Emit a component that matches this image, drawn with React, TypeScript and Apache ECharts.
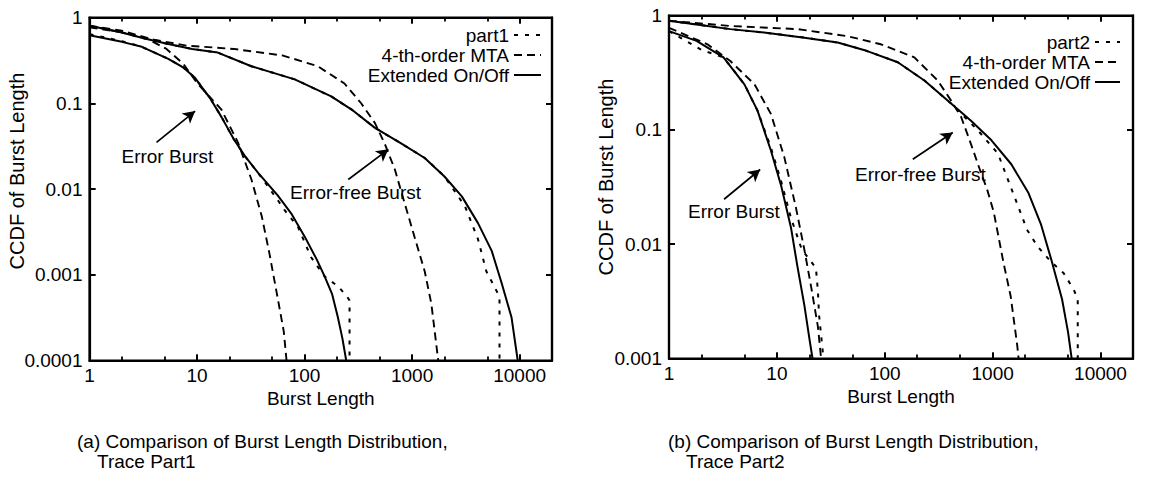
import React, { useEffect, useRef } from "react";
import * as echarts from "echarts";

// ---------- tick values / labels ----------
const xTickValues = [1, 10, 100, 1000, 10000];
const xTickLabels = ["1", "10", "100", "1000", "10000"];
const xMinorMarks = [2, 5, 20, 50, 200, 500, 2000, 5000];
const yTickValuesLeft = [0.0001, 0.001, 0.01, 0.1, 1];
const yTickLabelsLeft = ["0.0001", "0.001", "0.01", "0.1", "1"];
const yTickValuesRight = [0.001, 0.01, 0.1, 1];
const yTickLabelsRight = ["0.001", "0.01", "0.1", "1"];
const X_MIN = 1;
const X_MAX = 20000;

const legendLeft = ["part1", "4-th-order MTA", "Extended On/Off"];
const legendRight = ["part2", "4-th-order MTA", "Extended On/Off"];

// ---------- (a) Trace Part1 ----------
const aErrTrace = [[1, 0.64], [2, 0.53], [3, 0.46], [5.4, 0.33], [7.5, 0.26], [9.5, 0.2], [13.5, 0.11], [17, 0.068], [22, 0.038], [28, 0.024], [37, 0.0154], [56, 0.0075], [65, 0.0057], [87, 0.0036], [115, 0.0016], [154, 0.00095], [206, 0.00073], [250, 0.00055], [262, 0.0005], [262, 0.0001]];
const aErrMTA = [[1, 0.77], [2, 0.67], [3.4, 0.57], [5.2, 0.43], [7.5, 0.286], [9.9, 0.175], [13, 0.12], [16.8, 0.085], [24, 0.035], [32, 0.013], [40, 0.0048], [47, 0.0018], [56, 0.00055], [64, 0.00022], [68, 0.0001]];
const aErrExt = [[1, 0.62], [2, 0.52], [3, 0.46], [5.4, 0.33], [7.5, 0.26], [9.5, 0.2], [13.5, 0.11], [17, 0.068], [22, 0.038], [28, 0.024], [37, 0.0154], [56, 0.0085], [75, 0.0052], [100, 0.0028], [130, 0.0015], [154, 0.00095], [180, 0.0006], [204, 0.00032], [225, 0.00018], [244, 0.0001]];
const aFreeTrace = [[1, 0.8], [2, 0.67], [3.25, 0.57], [5.4, 0.49], [9, 0.43], [15.6, 0.39], [32, 0.27], [81, 0.19], [177, 0.12], [272, 0.085], [448, 0.052], [790, 0.034], [1310, 0.023], [2000, 0.014], [3100, 0.0063], [4100, 0.0026], [4900, 0.0011], [6300, 0.0006], [6500, 0.0005], [6500, 0.0001]];
const aFreeMTA = [[1, 0.8], [2, 0.7], [4, 0.55], [8, 0.47], [22, 0.43], [63, 0.36], [133, 0.27], [235, 0.17], [336, 0.1], [450, 0.059], [555, 0.034], [690, 0.017], [850, 0.0069], [1050, 0.0028], [1310, 0.0011], [1510, 0.00046], [1750, 0.0001]];
const aFreeExt = [[1, 0.8], [2, 0.67], [3.25, 0.57], [5.4, 0.49], [9, 0.43], [15.6, 0.39], [32, 0.27], [81, 0.19], [177, 0.12], [272, 0.085], [448, 0.052], [790, 0.034], [1310, 0.023], [2000, 0.014], [2900, 0.0082], [4100, 0.004], [5500, 0.0019], [6800, 0.0008], [8400, 0.00032], [9600, 0.0001]];

// ---------- (b) Trace Part2 ----------
const bErrTrace = [[1, 0.73], [2, 0.5], [3.2, 0.43], [5, 0.25], [6.6, 0.148], [8.8, 0.07], [11, 0.035], [13.5, 0.017], [17, 0.009], [23, 0.0062], [24, 0.0039], [24.6, 0.0024], [26.5, 0.0012], [27, 0.001]];
const bErrMTA = [[1, 0.78], [2.27, 0.56], [3.7, 0.4], [6.2, 0.25], [8.8, 0.138], [11.7, 0.058], [15, 0.021], [18, 0.0089], [21, 0.004], [24, 0.0019], [25.7, 0.001]];
const bErrExt = [[1, 0.73], [1.8, 0.6], [3.2, 0.43], [5, 0.25], [6.6, 0.148], [8.8, 0.066], [11, 0.032], [13.5, 0.014], [15.5, 0.0064], [18, 0.0029], [20, 0.0015], [21.4, 0.001]];
const bFreeTrace = [[1, 0.9], [1.8, 0.835], [3.7, 0.76], [7.6, 0.71], [18, 0.64], [36.6, 0.58], [64, 0.5], [132, 0.39], [233, 0.27], [412, 0.17], [730, 0.099], [1120, 0.062], [1570, 0.027], [1810, 0.019], [2080, 0.0134], [2600, 0.0096], [3430, 0.0071], [4540, 0.0056], [5650, 0.004], [6150, 0.0033], [6150, 0.001]];
const bFreeMTA = [[1, 0.9], [3.7, 0.81], [15.6, 0.76], [45, 0.66], [92, 0.56], [188, 0.43], [310, 0.27], [412, 0.18], [510, 0.13], [630, 0.075], [780, 0.042], [890, 0.03], [1025, 0.019], [1260, 0.0069], [1470, 0.0035], [1690, 0.0013], [1740, 0.001]];
const bFreeExt = [[1, 0.9], [1.8, 0.835], [3.7, 0.76], [7.6, 0.71], [18, 0.64], [36.6, 0.58], [64, 0.5], [132, 0.39], [233, 0.27], [412, 0.17], [630, 0.12], [975, 0.081], [1490, 0.05], [2150, 0.028], [2800, 0.015], [3500, 0.0073], [4400, 0.0033], [5000, 0.0017], [5400, 0.001]];

// ---------- annotations (data coordinates) ----------
const aNotes = [
  { text: "Error Burst", at: [5.3, 0.024], from: [4.2, 0.035], to: [9.6, 0.081] },
  { text: "Error-free Burst", at: [298, 0.0092], from: [255, 0.0129], to: [602, 0.029] },
];
const bNotes = [
  { text: "Error Burst", at: [4.0, 0.0193], from: [3.24, 0.0247], to: [7.0, 0.045] },
  { text: "Error-free Burst", at: [214, 0.041], from: [182, 0.0553], to: [427, 0.0947] },
];

const FONT = "'Liberation Sans', Arial, Helvetica, sans-serif";

// layout
const GRID_A = { left: 89.5, top: 17.5, width: 462.5, height: 343 };
const GRID_B = { left: 669, top: 15.5, width: 464, height: 343 };

const makeLabelFormatter = (values: number[], labels: string[]) => (v: number) => {
  const i = values.findIndex((t) => Math.abs(Math.log10(t) - Math.log10(v)) < 1e-6);
  return i >= 0 ? labels[i] : "";
};

// tick segments expressed in data space (tick length converted from pixels to log units)
const tickSegments = (yValues: number[], grid: { width: number; height: number }) => {
  const yMin = yValues[0];
  const yMax = yValues[yValues.length - 1];
  const pxPerDecX = grid.width / Math.log10(X_MAX / X_MIN);
  const pxPerDecY = grid.height / Math.log10(yMax / yMin);
  const fy = (px: number) => Math.pow(10, px / pxPerDecY);
  const fx = (px: number) => Math.pow(10, px / pxPerDecX);
  const nudge = 1.0005;
  const segs: any[] = [];
  const addX = (v: number, len: number) => {
    segs.push([{ coord: [v, yMin * nudge] }, { coord: [v, yMin * fy(len)] }]);
    segs.push([{ coord: [v, yMax / nudge] }, { coord: [v, yMax / fy(len)] }]);
  };
  xTickValues.forEach((v) => addX(v, 6));
  xMinorMarks.forEach((v) => addX(v, 4));
  yValues.forEach((v) => {
    segs.push([{ coord: [X_MIN * nudge, v] }, { coord: [X_MIN * fx(6), v] }]);
    segs.push([{ coord: [X_MAX / nudge, v] }, { coord: [X_MAX / fx(6), v] }]);
  });
  return segs;
};

export default function App() {
  const ref = useRef<HTMLDivElement>(null);

  useEffect(() => {
    document.body.style.margin = "0";
    document.body.style.overflow = "hidden";
    if (!ref.current) return;
    const chart = echarts.init(ref.current, undefined, { renderer: "svg" });

    const labelStyle = { color: "#000", fontSize: 19, fontFamily: FONT };
    const lineAxis = { show: true, lineStyle: { color: "#000", width: 2.2 } };
    const tickStyle = { show: true, inside: true, length: 6, lineStyle: { color: "#000", width: 1.8 } };

    const xAxisBase = (grid: number, pos: "bottom" | "top", showLabel: boolean, nameGap: number) => ({
      type: "log",
      gridIndex: grid,
      position: pos,
      min: X_MIN,
      max: X_MAX,
      logBase: 10,
      name: showLabel ? "Burst Length" : "",
      nameLocation: "middle",
      nameGap,
      nameTextStyle: { color: "#000", fontSize: 19, fontFamily: FONT },
      axisLine: lineAxis,
      axisTick: tickStyle,
      axisLabel: {
        show: showLabel,
        ...labelStyle,
        margin: 5,
        formatter: makeLabelFormatter(xTickValues, xTickLabels),
      },
      splitLine: { show: false },
    });

    const yAxisBase = (grid: number, pos: "left" | "right", showLabel: boolean, values: number[], labels: string[]) => ({
      type: "log",
      gridIndex: grid,
      position: pos,
      min: values[0],
      max: values[values.length - 1],
      logBase: 10,
      axisLine: lineAxis,
      axisTick: tickStyle,
      axisLabel: {
        show: showLabel,
        ...labelStyle,
        margin: 7,
        formatter: makeLabelFormatter(values, labels),
      },
      splitLine: { show: false },
    });

    const traceStyle = { color: "#000", width: 2, type: [4, 7] };
    const mtaStyle = { color: "#000", width: 1.9, type: [8, 5] };
    const extStyle = { color: "#000", width: 2, type: "solid" };

    const lineSeries = (name: string, data: number[][], style: any, xi: number, yi: number, z: number) => ({
      type: "line",
      name,
      data,
      xAxisIndex: xi,
      yAxisIndex: yi,
      showSymbol: false,
      symbol: "none",
      lineStyle: style,
      itemStyle: { color: "#000" },
      z,
      silent: true,
    });

    const arrowSeries = (notes: typeof aNotes, xi: number, yi: number) => ({
      type: "line",
      name: "notes",
      xAxisIndex: xi,
      yAxisIndex: yi,
      silent: true,
      symbol: "none",
      data: [],
      markLine: {
        silent: true,
        symbol: ["none", "arrow"],
        symbolSize: [10, 12],
        label: { show: false },
        lineStyle: { color: "#000", width: 1.7, type: "solid" },
        data: notes.map((n) => [{ coord: n.from }, { coord: n.to }]),
      },
      z: 10,
    });

    const tickSeries = (yValues: number[], grid: any, xi: number, yi: number) => ({
      type: "line",
      name: "ticks",
      xAxisIndex: xi,
      yAxisIndex: yi,
      silent: true,
      symbol: "none",
      data: [],
      markLine: {
        silent: true,
        symbol: ["none", "none"],
        label: { show: false },
        lineStyle: { color: "#000", width: 1.8, type: "solid" },
        data: tickSegments(yValues, grid),
      },
      z: 12,
    });

    const legendItem = (name: string, right: number, top: number, width: number) => ({
      data: [name],
      orient: "vertical",
      align: "right",
      right,
      top,
      padding: 0,
      itemWidth: width,
      itemHeight: 10,
      selectedMode: false,
      itemStyle: { opacity: 0, borderWidth: 0 },
      textStyle: { color: "#000", fontSize: 19, fontFamily: FONT, lineHeight: 20 },
    });

    const baseGraphic: any[] = [
      {
        type: "text", x: 17, y: 171, rotation: Math.PI / 2,
        style: { text: "CCDF of Burst Length", fill: "#000", fontSize: 20, fontFamily: FONT, textAlign: "center", textVerticalAlign: "middle" },
      },
      {
        type: "text", x: 606, y: 177, rotation: Math.PI / 2,
        style: { text: "CCDF of Burst Length", fill: "#000", fontSize: 20, fontFamily: FONT, textAlign: "center", textVerticalAlign: "middle" },
      },
      {
        type: "text", x: 77, y: 441,
        style: { text: "(a) Comparison of Burst Length Distribution,", fill: "#000", fontSize: 19, fontFamily: FONT, textAlign: "left", textVerticalAlign: "middle" },
      },
      {
        type: "text", x: 97, y: 461,
        style: { text: "Trace Part1", fill: "#000", fontSize: 19, fontFamily: FONT, textAlign: "left", textVerticalAlign: "middle" },
      },
      {
        type: "text", x: 668, y: 441,
        style: { text: "(b) Comparison of Burst Length Distribution,", fill: "#000", fontSize: 19, fontFamily: FONT, textAlign: "left", textVerticalAlign: "middle" },
      },
      {
        type: "text", x: 686, y: 461,
        style: { text: "Trace Part2", fill: "#000", fontSize: 19, fontFamily: FONT, textAlign: "left", textVerticalAlign: "middle" },
      },
    ];

    const option: any = {
      animation: false,
      backgroundColor: "#fff",
      grid: [
        { ...GRID_A, show: true, borderColor: "#000", borderWidth: 2.2, backgroundColor: "transparent" },
        { ...GRID_B, show: true, borderColor: "#000", borderWidth: 2.2, backgroundColor: "transparent" },
      ],
      xAxis: [
        xAxisBase(0, "bottom", true, 21),
        xAxisBase(0, "top", false, 0),
        xAxisBase(1, "bottom", true, 27),
        xAxisBase(1, "top", false, 0),
      ],
      yAxis: [
        yAxisBase(0, "left", true, yTickValuesLeft, yTickLabelsLeft),
        yAxisBase(0, "right", false, yTickValuesLeft, yTickLabelsLeft),
        yAxisBase(1, "left", true, yTickValuesRight, yTickLabelsRight),
        yAxisBase(1, "right", false, yTickValuesRight, yTickLabelsRight),
      ],
      legend: [
        legendItem(legendLeft[0], 624, 25, 27),
        legendItem(legendLeft[1], 624, 45, 27),
        legendItem(legendLeft[2], 624, 65, 27),
        legendItem(legendRight[0], 45, 32, 25),
        legendItem(legendRight[1], 45, 52, 25),
        legendItem(legendRight[2], 45, 72, 25),
      ],
      series: [
        lineSeries("Extended On/Off", aErrExt, extStyle, 0, 0, 3),
        lineSeries("4-th-order MTA", aErrMTA, mtaStyle, 0, 0, 4),
        lineSeries("part1", aErrTrace, traceStyle, 0, 0, 5),
        lineSeries("Extended On/Off", aFreeExt, extStyle, 0, 0, 3),
        lineSeries("4-th-order MTA", aFreeMTA, mtaStyle, 0, 0, 4),
        lineSeries("part1", aFreeTrace, traceStyle, 0, 0, 5),
        lineSeries("Extended On/Off", bErrExt, extStyle, 2, 2, 3),
        lineSeries("4-th-order MTA", bErrMTA, mtaStyle, 2, 2, 4),
        lineSeries("part2", bErrTrace, traceStyle, 2, 2, 5),
        lineSeries("Extended On/Off", bFreeExt, extStyle, 2, 2, 3),
        lineSeries("4-th-order MTA", bFreeMTA, mtaStyle, 2, 2, 4),
        lineSeries("part2", bFreeTrace, traceStyle, 2, 2, 5),
        arrowSeries(aNotes, 0, 0),
        arrowSeries(bNotes, 2, 2),
        tickSeries(yTickValuesLeft, GRID_A, 0, 0),
        tickSeries(yTickValuesRight, GRID_B, 2, 2),
      ],
      graphic: baseGraphic,
    };

    chart.setOption(option);

    // annotation texts placed through the chart's own scales
    const extra: any[] = [];
    const place = (notes: typeof aNotes, seriesIndex: number) => {
      notes.forEach((n) => {
        const p = chart.convertToPixel({ seriesIndex }, n.at) as number[];
        if (!p) return;
        extra.push({
          type: "text", x: p[0], y: p[1], z: 20,
          style: { text: n.text, fill: "#000", fontSize: 19, fontFamily: FONT, textAlign: "center", textVerticalAlign: "middle" },
        });
      });
    };
    place(aNotes, 0);
    place(bNotes, 6);
    chart.setOption({ graphic: [...baseGraphic, ...extra] });

    return () => chart.dispose();
  }, []);

  return <div ref={ref} style={{ width: 1166, height: 480 }} />;
}
